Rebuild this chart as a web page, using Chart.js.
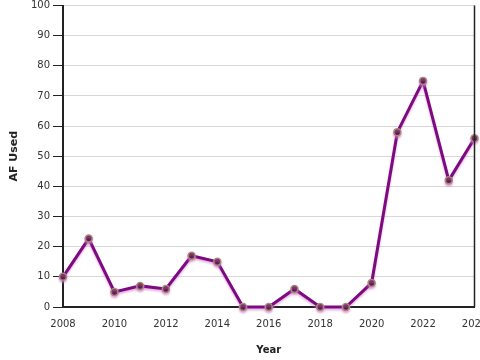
<!DOCTYPE html>
<html><head><meta charset="utf-8">
<script src="https://cdn.jsdelivr.net/npm/chart.js@4"></script>
<style>html,body{margin:0;padding:0;background:#fff}#wrap{width:480px;height:360px}</style>
</head><body><div id="wrap"><canvas id="c"></canvas></div>
<script>
/* ===== data ===== */
const YEARS=[2008,2009,2010,2011,2012,2013,2014,2015,2016,2017,2018,2019,2020,2021,2022,2023,2024];
const AF_USED=[10,22.7,5,7,6,17,15,0,0,6,0,0,8,58,75,42,56];

/* glow under line */
const glow={id:'glow',
  beforeDatasetDraw(c){const x=c.ctx;x.save();x.shadowColor='rgba(210,120,200,.55)';x.shadowOffsetY=2;x.shadowBlur=2;},
  afterDatasetDraw(c){c.ctx.restore();}};
/* right border */
const frame={id:'frame',afterDraw(c){
  const {ctx,chartArea:{right,top,bottom}}=c;
  ctx.save();ctx.strokeStyle='#222';ctx.lineWidth=1.5;
  ctx.beginPath();ctx.moveTo(right,top);ctx.lineTo(right,bottom);ctx.stroke();ctx.restore();}};

const font={family:'"DejaVu Sans", sans-serif',size:10};
new Chart(document.getElementById('c'),{
  type:'line',
  data:{datasets:[{
    data:YEARS.map((y,i)=>({x:y,y:AF_USED[i]})),
    borderColor:'#7d0a80',borderWidth:3,tension:0,
    pointRadius:3.5,pointBackgroundColor:'#5e1850',pointBorderColor:'#a88a78',pointBorderWidth:1.5,
    clip:false
  }]},
  options:{
    responsive:true,maintainAspectRatio:false,animation:false,
    layout:{padding:{top:4,right:3,left:0,bottom:0}},
    plugins:{legend:{display:false},tooltip:{enabled:false}},
    scales:{
      x:{type:'linear',min:2008,max:2024,
         ticks:{stepSize:2,color:'#333',font,padding:6,maxRotation:0,callback:v=>String(v)},
         grid:{display:false,drawTicks:true,tickLength:5,tickColor:'#222'},
         border:{color:'#222',width:2},
         title:{display:true,text:'Year',color:'#222',font:{...font,weight:'bold'},padding:{top:2}},
         afterFit(s){s.height=53;s.paddingLeft=0;s.paddingRight=0;}},
      y:{min:0,max:100,
         ticks:{stepSize:10,color:'#333',font,padding:3},
         grid:{color:'#d8d8d8',lineWidth:1,tickLength:10,tickColor:'#222'},
         border:{color:'#222',width:2},
         title:{display:true,text:'AF Used',color:'#222',font:{...font,size:11,weight:'bold'},padding:{top:8,bottom:12}},
         afterFit(s){s.width=63;s.paddingTop=0;s.paddingBottom=0;}}
    }
  },
  plugins:[glow,frame]
});
</script></body></html>
